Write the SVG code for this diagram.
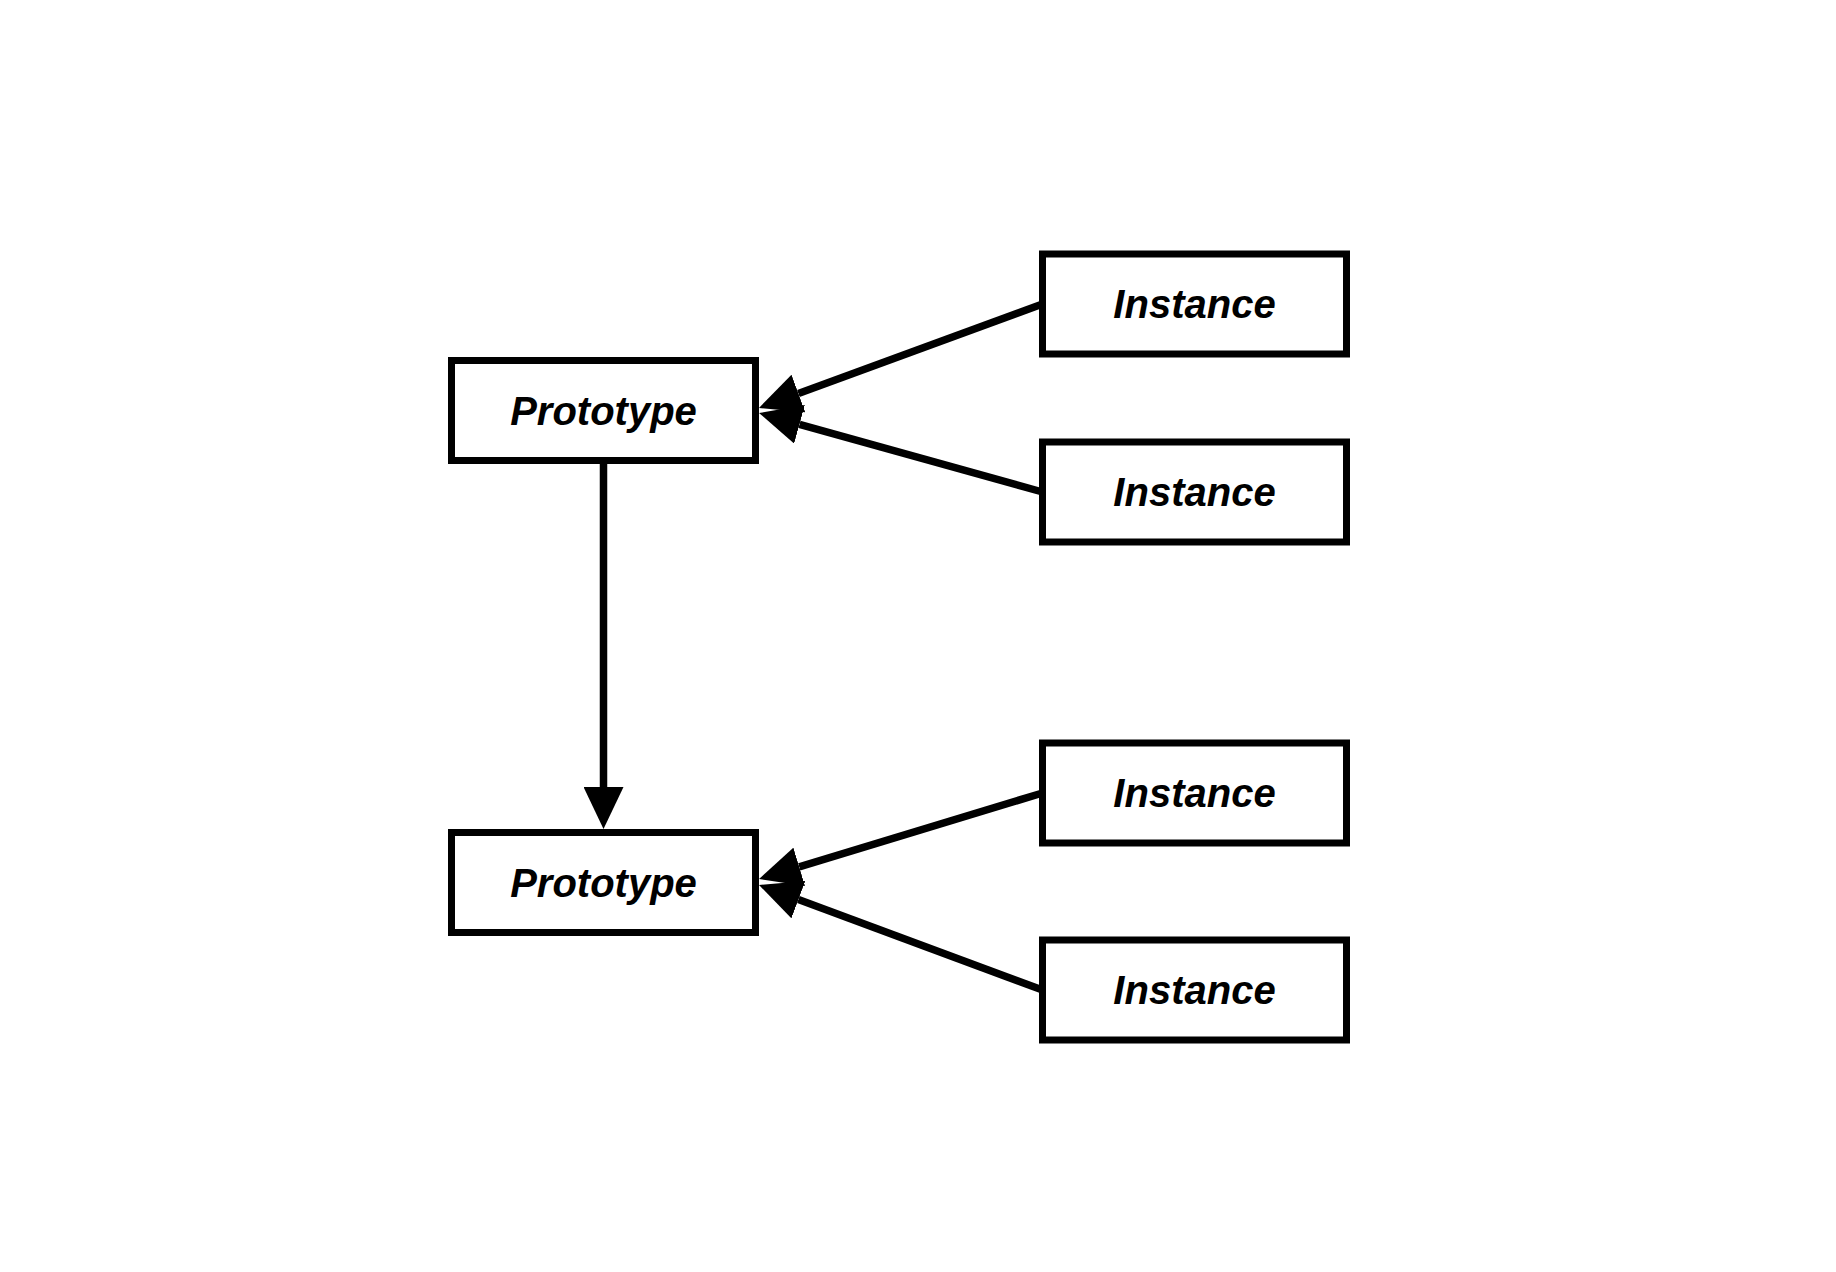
<svg xmlns="http://www.w3.org/2000/svg" width="1836" height="1272" viewBox="0 0 1836 1272">
<style>
.box{fill:#fff;stroke:#000;stroke-width:7}
.lbl{font-family:"Liberation Sans",Arial,sans-serif;font-weight:bold;font-style:italic;font-size:40px;text-anchor:middle;fill:#000}
.edge{fill:none;stroke:#000;stroke-width:7.5}
</style>
<defs>
<marker id="arr" markerUnits="userSpaceOnUse" markerWidth="42" markerHeight="40" viewBox="0 0 42 40" refX="0" refY="20" orient="auto">
<path d="M0,0 L42,20 L0,40 Z" fill="#000"/>
</marker>
</defs>
<rect width="1836" height="1272" fill="#fff"/>
<g id="connectors">
<path class="edge" d="M1042.5,304 L798.4,393.5" marker-end="url(#arr)"/>
<path class="edge" d="M1042.5,492 L799.5,424.3" marker-end="url(#arr)"/>
<path class="edge" d="M1042.5,793 L799.2,866.8" marker-end="url(#arr)"/>
<path class="edge" d="M1042.5,990 L798.4,899.6" marker-end="url(#arr)"/>
<path class="edge" d="M603.5,460.5 L603.5,787" marker-end="url(#arr)"/>
</g>
<g id="prototype1"><rect class="box" x="451.5" y="360.5" width="304" height="100"/><text class="lbl" x="603.5" y="425">Prototype</text></g>
<g id="prototype2"><rect class="box" x="451.5" y="832.5" width="304" height="100"/><text class="lbl" x="603.5" y="897">Prototype</text></g>
<g id="instance1"><rect class="box" x="1042.5" y="254" width="304" height="100"/><text class="lbl" x="1194.5" y="318">Instance</text></g>
<g id="instance2"><rect class="box" x="1042.5" y="442" width="304" height="100"/><text class="lbl" x="1194.5" y="506">Instance</text></g>
<g id="instance3"><rect class="box" x="1042.5" y="743" width="304" height="100"/><text class="lbl" x="1194.5" y="807">Instance</text></g>
<g id="instance4"><rect class="box" x="1042.5" y="940" width="304" height="100"/><text class="lbl" x="1194.5" y="1004">Instance</text></g>
</svg>
